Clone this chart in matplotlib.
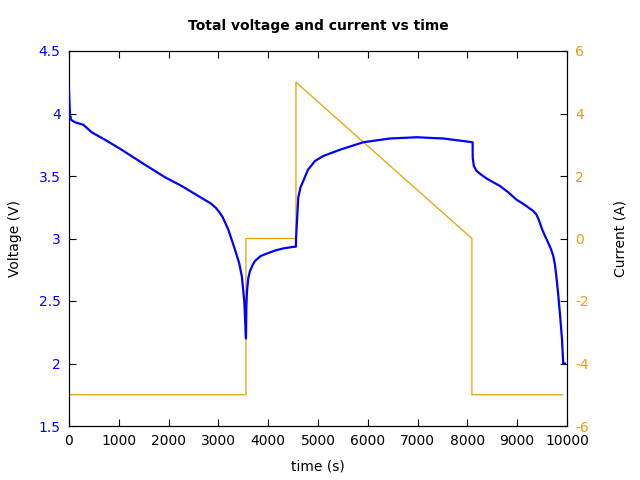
import matplotlib
matplotlib.use("Agg")
import matplotlib.pyplot as plt
from matplotlib.ticker import FuncFormatter

plt.rcParams["axes.unicode_minus"] = False

# voltage trace (s, V)
t_volt = [0, 10, 20, 40, 120, 287, 455, 723, 1058, 1526, 1928, 2263, 2597, 2850,
          2950, 3020, 3080, 3133, 3200, 3293, 3350, 3420, 3474, 3520, 3554,
          3562, 3575, 3600, 3635, 3690, 3735, 3850, 3976, 4150, 4297, 4450, 4558,
          4560, 4572, 4605, 4650, 4705, 4800, 4940, 5107, 5442, 5910, 6446, 6982,
          7518, 8106,
          8108, 8130, 8186, 8280, 8387, 8520, 8655, 8820, 8990, 9150, 9324, 9391,
          9440, 9500, 9560, 9620, 9680, 9726, 9760, 9790, 9826, 9870, 9900, 9926, 9960]
volt = [4.19, 4.08, 4.0, 3.95, 3.93, 3.91, 3.85, 3.79, 3.71, 3.59, 3.49, 3.42, 3.34, 3.28,
        3.245, 3.21, 3.175, 3.13, 3.07, 2.96, 2.89, 2.80, 2.69, 2.50, 2.20,
        2.45, 2.58, 2.68, 2.74, 2.79, 2.82, 2.86, 2.88, 2.905, 2.92, 2.93, 2.935,
        3.00, 3.09, 3.33, 3.41, 3.46, 3.55, 3.62, 3.66, 3.71, 3.77, 3.80, 3.81,
        3.80, 3.77,
        3.65, 3.58, 3.54, 3.51, 3.48, 3.45, 3.42, 3.37, 3.31, 3.27, 3.22, 3.19,
        3.145, 3.075, 3.02, 2.97, 2.915, 2.86, 2.79, 2.69, 2.55, 2.35, 2.20, 2.00, 2.00]

# current trace (s, A)
t_curr = [0, 3554, 3554, 4558, 4558, 8092, 8092, 9913]
curr = [-5, -5, 0, 0, 5, 0, -5, -5]

blue = "#0000ff"
orange = "#e8a000"

fig = plt.figure(figsize=(6.4, 4.8), dpi=100)
ax = fig.add_axes([0.1078, 0.1125, 0.778, 0.78125])
ax2 = ax.twinx()

ax.plot(t_volt, volt, color=blue, lw=1.6, zorder=3)
ax2.plot(t_curr, curr, color=orange, lw=0.9)
ax.set_zorder(ax2.get_zorder() + 1)
ax.patch.set_visible(False)

ax.set_xlim(0, 10000)
ax.set_ylim(1.5, 4.5)
ax2.set_ylim(-6, 6)
ax.set_xticks(range(0, 10001, 1000))
ax.set_yticks([1.5, 2, 2.5, 3, 3.5, 4, 4.5])
ax2.set_yticks(range(-6, 7, 2))
ax.yaxis.set_major_formatter(FuncFormatter(lambda v, p: f"{v:g}"))

ax.tick_params(axis="x", direction="in", top=True, length=5, labelsize=10, pad=6)
ax.tick_params(axis="y", direction="in", length=5, labelsize=10, labelcolor=blue, pad=6)
ax2.tick_params(axis="y", direction="in", length=5, labelsize=10, labelcolor=orange, pad=6)

ax.set_xlabel("time (s)", fontsize=10, labelpad=8)
ax.set_ylabel("Voltage (V)", fontsize=10, labelpad=12)
ax2.set_ylabel("Current (A)", fontsize=10, labelpad=18)
ax.set_title("Total voltage and current vs time", fontsize=10, fontweight="bold", pad=15)

fig.savefig("out.png", dpi=100)
